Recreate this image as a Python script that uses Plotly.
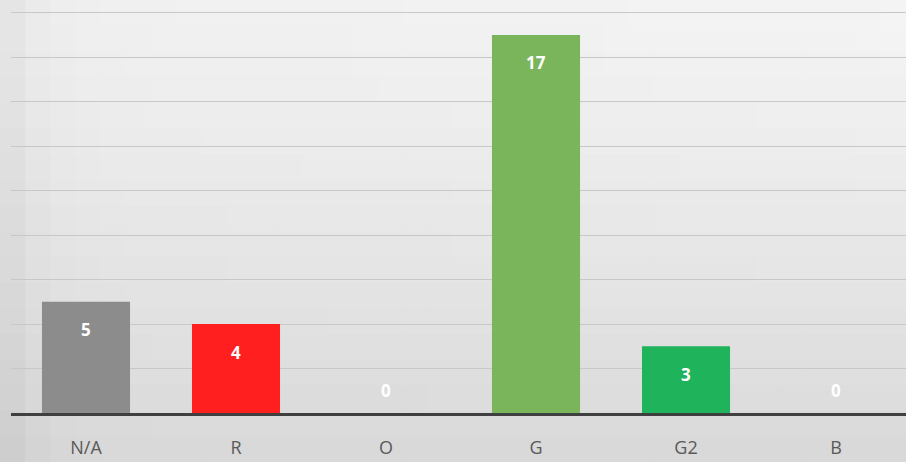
import plotly.graph_objects as go
import numpy as np

categories = ["N/A", "R", "O", "G", "G2", "B"]
values = [5, 4, 0, 17, 3, 0]
bar_colors = ["#8c8c8c", "#ff1f1f", "#a5a5a5", "#7ab55c", "#1fb35c", "#4472c4"]

W, H = 906, 462
ML, MR, MT, MB = 11, 0, 0, 49
PW, PH = W - ML - MR, H - MT - MB

fig = go.Figure()
fig.add_trace(go.Bar(
    x=categories, y=values, marker=dict(color=bar_colors, line=dict(width=0)),
    width=0.587, hoverinfo="skip", showlegend=False,
))

# background gradient (style only)
shapes = []
ncol, nrow = 36, 18
for i in range(ncol):
    for j in range(nrow):
        x0p, x1p = i * W / ncol, (i + 1) * W / ncol
        y0p, y1p = j * H / nrow, (j + 1) * H / nrow
        xc, yc = (x0p + x1p) / 2, (y0p + y1p) / 2
        v = 240 - 24 * (yc / H) ** 1.3 - 16 * np.exp(-xc / 30) + 4 * (xc / W) * (1 - yc / H)
        v = int(round(min(245, max(200, v))))
        col = f"rgb({v},{v},{v})"
        shapes.append(dict(
            type="rect", xref="paper", yref="paper", layer="below",
            x0=(x0p - ML) / PW, x1=(x1p - ML + 1) / PW,
            y0=(H - MB - y1p - 1) / PH, y1=(H - MB - y0p) / PH,
            fillcolor=col, line=dict(width=0),
        ))

annotations = []
for c, v in zip(categories, values):
    annotations.append(dict(
        x=c, y=v, xref="x", yref="y", text=f"<b>{v}</b>", showarrow=False,
        yanchor="middle", yshift=(-28 if v > 0 else 23),
        font=dict(family="Open Sans, DejaVu Sans", size=17, color="white"),
    ))

fig.update_layout(
    width=W, height=H, margin=dict(l=ML, r=MR, t=MT, b=MB),
    paper_bgcolor="#dedede", plot_bgcolor="rgba(0,0,0,0)",
    shapes=shapes, annotations=annotations, bargap=0.4,
)
fig.update_xaxes(
    range=[-0.5, -0.5 + PW / 150], showgrid=False, showline=True,
    linecolor="#3f3f3f", linewidth=3, ticks="outside", ticklen=16,
    tickcolor="rgba(0,0,0,0)",
    tickfont=dict(family="Open Sans, DejaVu Sans", size=18, color="#595959"),
)
fig.update_yaxes(
    range=[0, PH / 22.24], dtick=2, showgrid=True, gridcolor="#c8c8c8",
    gridwidth=1.2, showticklabels=False, zeroline=False,
)
fig.write_html("out.html")
